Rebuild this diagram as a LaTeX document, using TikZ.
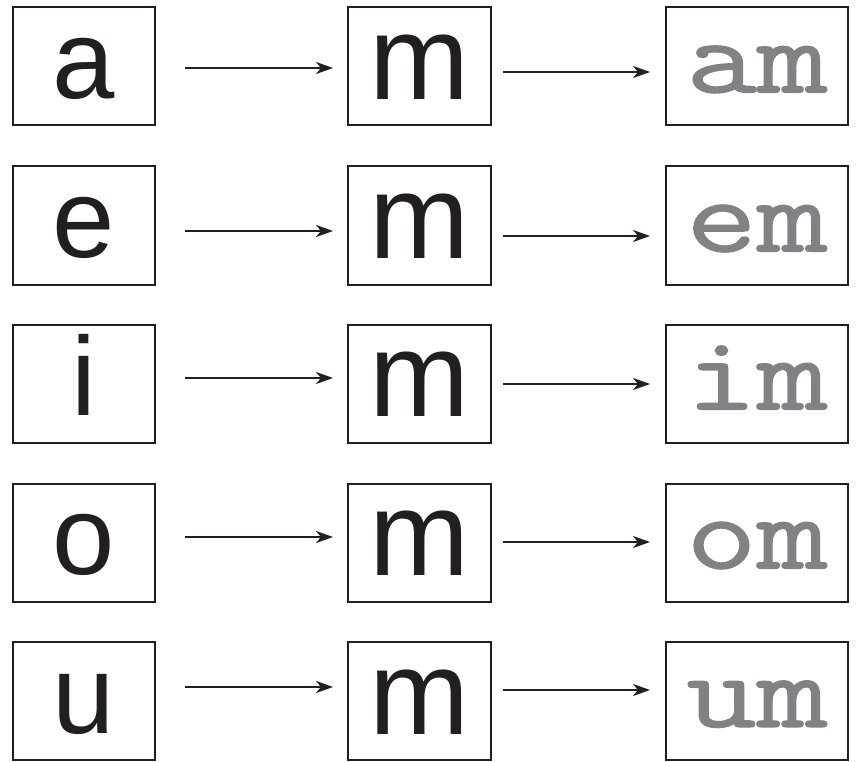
\documentclass[tikz,border=0pt]{standalone}
\usepackage{fontspec}
\newfontfamily\helvfont{Liberation Sans}
\newfontfamily\courfont[FakeBold=1.2,FakeStretch=1.3]{Latin Modern Mono}
\usetikzlibrary{arrows.meta,calc}
\definecolor{ink}{HTML}{231F20}
\definecolor{greytxt}{HTML}{808285}
\begin{document}
\begin{tikzpicture}[x=1pt,y=-1pt,
  box/.style={draw=ink,line width=2pt,inner sep=0pt,minimum height=118pt,text depth=0pt},
  leftbox/.style={box,minimum width=142pt,text=ink,font=\helvfont\fontsize{112}{112}\selectfont,text height=64pt},
  midbox/.style={box,minimum width=143pt,text=ink,font=\helvfont\fontsize{120}{120}\selectfont,text height=66pt},
  rightbox/.style={box,minimum width=182pt,text=greytxt,font=\courfont\fontsize{106}{106}\selectfont,text height=52pt},
  arr/.style={draw=ink,line width=1.8pt,-{Stealth[length=17pt,width=12pt,inset=5pt]}}
]
\useasboundingbox (0,0) rectangle (856,762);
\foreach \i/\l/\cy/\ya/\yb in {1/a/66.5/68/72, 2/e/225.5/231/236, 3/i/383.5/378/384, 4/o/542.5/537/542, 5/u/701/687/690}{
  \node[leftbox] (L\i) at (84,\cy) {\l};
  \node[midbox] (M\i) at (419.5,\cy) {m};
  \node[rightbox] (R\i) at (757,\cy) {\l m};
  \draw[arr,shorten <=29pt,shorten >=14pt] ($(L\i.east)+(0,\ya-\cy)$) -- ($(M\i.west)+(0,\ya-\cy)$);
  \draw[arr,shorten <=11pt,shorten >=15pt] ($(M\i.east)+(0,\yb-\cy)$) -- ($(R\i.west)+(0,\yb-\cy)$);
}
\end{tikzpicture}
\end{document}
